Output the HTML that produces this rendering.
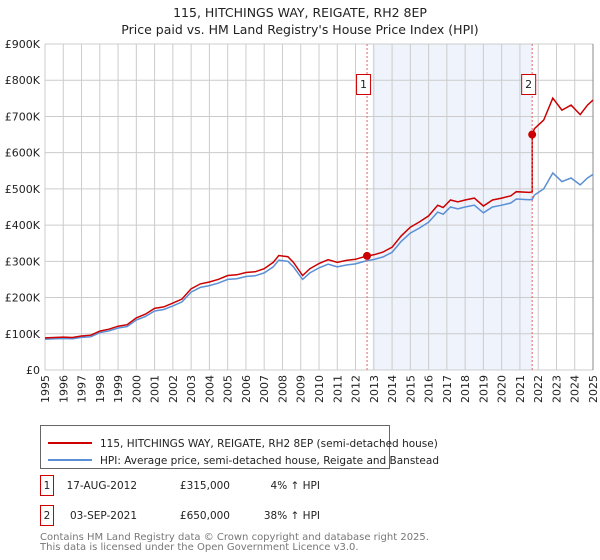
<!DOCTYPE html>
<html><head><meta charset="utf-8"><style>
body{margin:0;background:#fff;font-family:"Liberation Sans","DejaVu Sans",sans-serif}
#wrap{position:relative;width:600px;height:560px;overflow:hidden}
svg text{font-family:"DejaVu Sans","Liberation Sans",sans-serif}
</style></head><body>
<div id="wrap">
<svg id="chart" width="600" height="560">
<text x="300" y="17" text-anchor="middle" font-size="12.5" fill="#222">115, HITCHINGS WAY, REIGATE, RH2 8EP</text>
<text x="300" y="34" text-anchor="middle" font-size="12.5" fill="#222">Price paid vs. HM Land Registry's House Price Index (HPI)</text>
<g id="plot"></g>
<g>
<rect x="40.5" y="425.5" width="349" height="43" fill="#fff" stroke="#666"/>
<line x1="48" y1="443" x2="92" y2="443" stroke="#cc0000" stroke-width="2"/>
<text x="100" y="447" font-size="10.5" fill="#222">115, HITCHINGS WAY, REIGATE, RH2 8EP (semi-detached house)</text>
<line x1="48" y1="460" x2="92" y2="460" stroke="#5b8fd6" stroke-width="2"/>
<text x="100" y="464" font-size="10.5" fill="#222">HPI: Average price, semi-detached house, Reigate and Banstead</text>
</g>
<g font-size="10.5" fill="#222">
<rect x="40.5" y="475.5" width="13" height="20" fill="#fff" stroke="#cc0000"/>
<text x="47" y="489" text-anchor="middle">1</text>
<text x="137" y="489" text-anchor="end">17-AUG-2012</text>
<text x="230" y="489" text-anchor="end">£315,000</text>
<text x="320" y="489" text-anchor="end">4% ↑ HPI</text>
<rect x="40.5" y="505.5" width="13" height="20" fill="#fff" stroke="#cc0000"/>
<text x="47" y="519" text-anchor="middle">2</text>
<text x="137" y="519" text-anchor="end">03-SEP-2021</text>
<text x="230" y="519" text-anchor="end">£650,000</text>
<text x="320" y="519" text-anchor="end">38% ↑ HPI</text>
</g>
<text x="40" y="540" font-size="10" fill="#777">Contains HM Land Registry data © Crown copyright and database right 2025.</text>
<text x="40" y="550" font-size="10" fill="#777">This data is licensed under the Open Government Licence v3.0.</text>
</svg>
</div>
<script>
const yTicks=[0,100,200,300,400,500,600,700,800,900];
const yTickLabels=["£0","£100K","£200K","£300K","£400K","£500K","£600K","£700K","£800K","£900K"];
const xYears=[1995,1996,1997,1998,1999,2000,2001,2002,2003,2004,2005,2006,2007,2008,2009,2010,2011,2012,2013,2014,2015,2016,2017,2018,2019,2020,2021,2022,2023,2024,2025];
const hpiT=[1995,1995.5,1996,1996.5,1997,1997.5,1998,1998.5,1999,1999.5,2000,2000.5,2001,2001.5,2002,2002.5,2003,2003.5,2004,2004.5,2005,2005.5,2006,2006.5,2007,2007.5,2007.8,2008.3,2008.6,2009.1,2009.5,2010,2010.5,2011,2011.5,2012,2012.63,2013,2013.5,2014,2014.5,2015,2015.5,2016,2016.5,2016.8,2017.2,2017.6,2018,2018.5,2019,2019.5,2020,2020.5,2020.8,2021.5,2021.67,2021.8,2022.3,2022.8,2023.3,2023.8,2024.3,2024.7,2025];
const hpiV=[85,86,87,86,90,92,103,108,116,120,138,148,163,167,177,188,215,228,233,240,250,252,258,260,268,285,303,300,285,250,268,282,292,285,290,293,302,305,312,325,355,378,392,408,436,430,450,445,450,455,434,450,455,461,472,470,471,483,500,544,520,530,511,530,540];
const saleT=[2012.63,2021.67];
const saleV=[315,650];
const saleLabels=["1","2"];
const NS="http://www.w3.org/2000/svg";
const L=45,R=593,T=44,B=370;
const xS=t=>L+(t-1995)/30*(R-L);
const yS=v=>B-v/900*(B-T);
const g=document.getElementById('plot');
function mk(tag,attrs,parent){const e=document.createElementNS(NS,tag);for(const k in attrs)e.setAttribute(k,attrs[k]);(parent||g).appendChild(e);return e;}
const sh=mk('rect',{x:xS(saleT[0]+0.3),y:T,width:xS(saleT[1])-xS(saleT[0]+0.3),height:B-T,fill:'#eef3fc'});


yTicks.forEach((v,i)=>{
 const l=mk('line',{x1:L,x2:R,y1:yS(v),y2:yS(v),stroke:'#cccccc','stroke-width':1});
 
 
 const t=mk('text',{x:40,y:yS(v)+4,'text-anchor':'end','font-size':11,fill:'#222'});
 t.textContent=yTickLabels[i];
 
 
});
xYears.forEach(yr=>{
 const x=xS(yr);
 const l=mk('line',{x1:x,x2:x,y1:T,y2:B,stroke:'#cccccc','stroke-width':1});
 
 
 const tg=mk('g',{});
 tg.setAttribute('transform','translate('+(x+4).toFixed(1)+','+(B+5)+') rotate(-90)');
 
 
 const t=mk('text',{x:0,y:0,'text-anchor':'end','font-size':11,fill:'#222'},tg);
 t.textContent=yr;
 
 
});
const rb=mk('line',{x1:R,x2:R,y1:T,y2:B,stroke:'#888','stroke-width':1});


function interp(t){for(let i=1;i<hpiT.length;i++){if(t<=hpiT[i]){const f=(t-hpiT[i-1])/(hpiT[i]-hpiT[i-1]);return hpiV[i-1]+f*(hpiV[i]-hpiV[i-1]);}}return hpiV[hpiV.length-1];}
const f1=saleV[0]/interp(saleT[0]),f2=saleV[1]/interp(saleT[1]);
const hp=mk('path',{d:hpiT.map((t,i)=>(i?'L':'M')+xS(t).toFixed(1)+','+yS(hpiV[i]).toFixed(1)).join(''),fill:'none',stroke:'#5b8fd6','stroke-width':1.5});


let pts=[];
hpiT.forEach((t,i)=>{if(t<saleT[1])pts.push([t,hpiV[i]*f1]);});
pts.push([saleT[1],interp(saleT[1])*f1]);
pts.push([saleT[1],saleV[1]]);
hpiT.forEach((t,i)=>{if(t>saleT[1])pts.push([t,hpiV[i]*f2]);});
const pp=mk('path',{d:pts.map((p,i)=>(i?'L':'M')+xS(p[0]).toFixed(1)+','+yS(p[1]).toFixed(1)).join(''),fill:'none',stroke:'#cc0000','stroke-width':1.5});


saleT.forEach((t,i)=>{
 const x=xS(t);
 const d=mk('line',{x1:x,x2:x,y1:T,y2:B,stroke:'#e06666','stroke-width':1,'stroke-dasharray':'2,2'});
 
 
 const m=mk('circle',{cx:x,cy:yS(saleV[i]),r:4,fill:'#cc0000'});
 
 
 const b=mk('rect',{x:x-10.5,y:74.5,width:14,height:20,fill:'#fff',stroke:'#cc0000'});
 
 
 const tx=mk('text',{x:x-3.5,y:88,'text-anchor':'middle','font-size':11,fill:'#222'});
 tx.textContent=saleLabels[i];
 
 
});
</script>
</body></html>
